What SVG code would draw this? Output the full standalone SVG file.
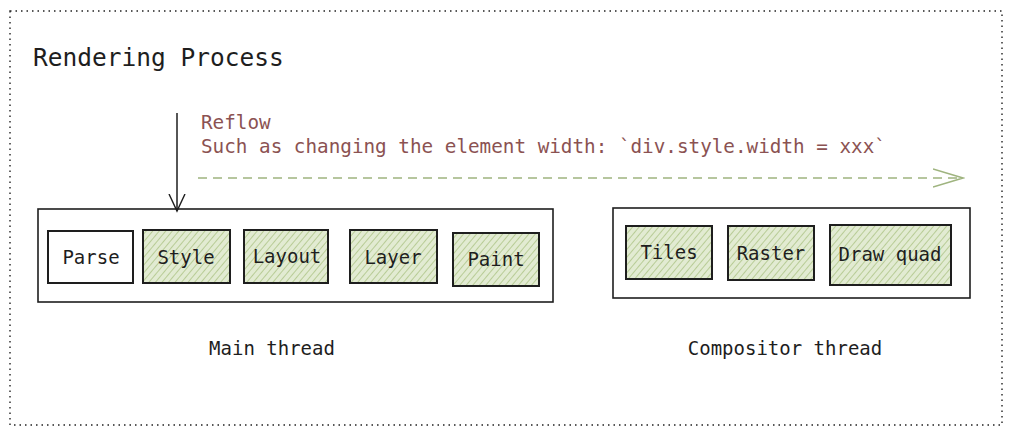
<svg xmlns="http://www.w3.org/2000/svg" width="1012" height="435" viewBox="0 0 1012 435">
<defs>
<pattern id="hatch" width="5" height="5" patternUnits="userSpaceOnUse" patternTransform="rotate(40)">
<rect width="5" height="5" fill="#e2ebd2"/>
<line x1="0" y1="0" x2="0" y2="5" stroke="#b3c98f" stroke-width="1.8"/>
</pattern>
<marker id="ah" markerWidth="20" markerHeight="20" refX="17" refY="10" orient="auto" markerUnits="userSpaceOnUse">
<path d="M0,2 L17,10 L0,18" fill="none" stroke="#1e1e1e" stroke-width="1.4"/>
</marker>
<marker id="ahg" markerWidth="32" markerHeight="20" refX="30" refY="10" orient="auto" markerUnits="userSpaceOnUse">
<path d="M0,1 L30,10 L0,19" fill="none" stroke="#9fb47f" stroke-width="1.6"/>
</marker>
</defs>
<style>
.t{font-family:"DejaVu Sans Mono","Liberation Mono",monospace;fill:#1e1e1e;}
.lbl{font-size:19px;text-anchor:middle;}
.box{fill:none;stroke:#1e1e1e;stroke-width:1.6;}
.node{stroke:#1e1e1e;stroke-width:2;}
.red{font-family:"DejaVu Sans Mono","Liberation Mono",monospace;fill:#8b5252;font-size:19.3px;}
</style>
<rect x="10" y="11" width="992" height="414" fill="none" stroke="#222" stroke-width="1.4" stroke-dasharray="1.5 4"/>
<text class="t" x="33" y="66" font-size="24.5">Rendering Process</text>
<text class="red" x="201" y="129">Reflow</text>
<text class="red" x="201" y="153">Such as changing the element width: `div.style.width = xxx`</text>
<g id="main-thread">
<rect class="box" x="38" y="209" width="515" height="93"/>
<text class="t" x="272" y="355" font-size="19" text-anchor="middle">Main thread</text>
</g>
<g id="compositor-thread">
<rect class="box" x="613" y="208" width="357" height="90"/>
<text class="t" x="785" y="355" font-size="19" text-anchor="middle">Compositor thread</text>
</g>
<g id="parse"><rect class="node" x="48" y="231" width="85" height="52" fill="#ffffff"/><text class="t lbl" x="91" y="264">Parse</text></g>
<g id="style"><rect class="node" x="143" y="230" width="87" height="53" fill="url(#hatch)"/><text class="t lbl" x="186" y="264">Style</text></g>
<g id="layout"><rect class="node" x="244" y="230" width="84" height="53" fill="url(#hatch)"/><text class="t lbl" x="287" y="263">Layout</text></g>
<g id="layer"><rect class="node" x="350" y="230" width="87" height="53" fill="url(#hatch)"/><text class="t lbl" x="393" y="264">Layer</text></g>
<g id="paint"><rect class="node" x="453" y="233" width="86" height="53" fill="url(#hatch)"/><text class="t lbl" x="496" y="266">Paint</text></g>
<g id="tiles"><rect class="node" x="626" y="226" width="86" height="53" fill="url(#hatch)"/><text class="t lbl" x="669" y="259">Tiles</text></g>
<g id="raster"><rect class="node" x="728" y="226" width="86" height="54" fill="url(#hatch)"/><text class="t lbl" x="771" y="260">Raster</text></g>
<g id="draw-quad"><rect class="node" x="830" y="225" width="121" height="60" fill="url(#hatch)"/><text class="t lbl" x="890" y="261">Draw quad</text></g>
<g id="connectors">
<line x1="177" y1="113" x2="177" y2="211" stroke="#1e1e1e" stroke-width="1.5" marker-end="url(#ah)"/>
<line x1="198" y1="178" x2="963" y2="178" stroke="#9fb47f" stroke-width="1.6" stroke-dasharray="9 6" marker-end="url(#ahg)"/>
</g>
</svg>
